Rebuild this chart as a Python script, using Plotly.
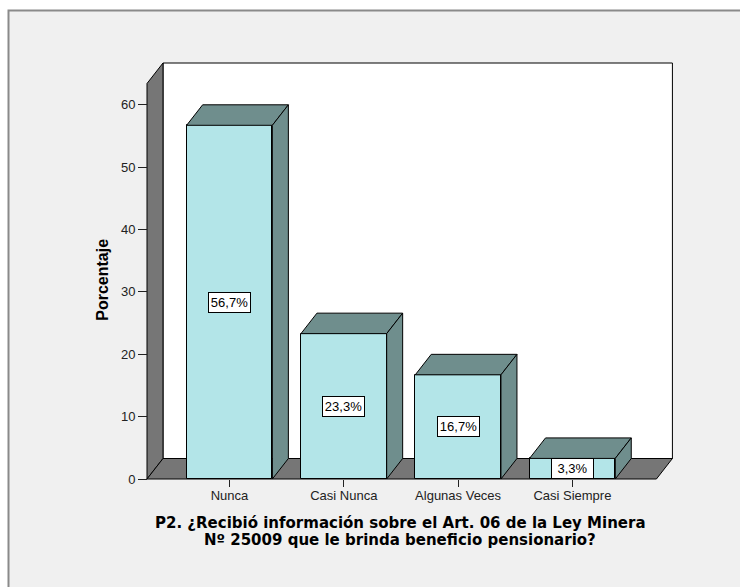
import plotly.graph_objects as go

# ---- data ----
categories = ["Nunca", "Casi Nunca", "Algunas Veces", "Casi Siempre"]
percentages = [56.7, 23.3, 16.7, 3.3]
y_ticks = [0, 10, 20, 30, 40, 50, 60]
x_title_lines = ["P2. ¿Recibió información sobre el Art. 06 de la Ley Minera",
                 "Nº 25009 que le brinda beneficio pensionario?"]
y_title = "Porcentaje"

# ---- styling / geometry ----
W, H = 740, 587
ML, MR, MT, MB = 100, 30, 30, 70
PW, PH = W - ML - MR, H - MT - MB
SX = 114.3          # px per category unit
SY = 6.238          # px per percent
CAT0_PX = 229.5     # pixel of first category
ZERO_PX = 479       # pixel of y=0 (front)
AXIS_PX = 147       # pixel of front-left edge (y axis)

x0 = -(CAT0_PX - ML) / SX
x1 = x0 + PW / SX
y0 = -((H - MB) - ZERO_PX) / SY
y1 = (ZERO_PX - MT) / SY

XL = x0 + (AXIS_PX - ML) / SX     # front-left edge of floor
XR = 3.735                         # front-right edge of floor
DX = 16 / SX                       # depth offset in x units
DY = 20.5 / SY                     # depth offset in y units
YWALL = 63.4                       # front height of left wall
BAR_W = 0.75

FRONT = "#b3e5e8"
SIDE = "#6f8e8d"
WALL = "#767676"
BG = "#f0f0f0"
FONT = "Liberation Sans, Arial, sans-serif"
TFONT = "DejaVu Sans, Verdana, sans-serif"


def px2paper_x(px):
    return (px - ML) / PW


def px2paper_y(py):
    return ((H - MB) - py) / PH


def poly(xs, ys):
    return "M " + " L ".join(f"{a},{b}" for a, b in zip(xs, ys)) + " Z"


fig = go.Figure()

shapes = []
# outer frame
shapes.append(dict(type="rect", xref="paper", yref="paper",
                   x0=px2paper_x(8.5), x1=px2paper_x(780), y0=px2paper_y(640), y1=px2paper_y(10.5),
                   fillcolor=BG, line=dict(color="#8a8a8a", width=2), layer="below"))
# back wall
shapes.append(dict(type="path", xref="x", yref="y", layer="below",
                   path=poly([XL + DX, XR + DX, XR + DX, XL + DX], [DY, DY, YWALL + DY, YWALL + DY]),
                   fillcolor="white", line=dict(color="black", width=1)))
# left wall
shapes.append(dict(type="path", xref="x", yref="y", layer="below",
                   path=poly([XL, XL + DX, XL + DX, XL], [0, DY, YWALL + DY, YWALL]),
                   fillcolor=WALL, line=dict(color="black", width=1)))
# floor
shapes.append(dict(type="path", xref="x", yref="y", layer="below",
                   path=poly([XL, XR, XR + DX, XL + DX], [0, 0, DY, DY]),
                   fillcolor=WALL, line=dict(color="black", width=1)))

xs = list(range(len(categories)))

fig.add_trace(go.Bar(x=xs, y=percentages, width=BAR_W,
                     marker=dict(color=FRONT, line=dict(color="black", width=1)),
                     hoverinfo="skip", showlegend=False))

for i, v in zip(xs, percentages):
    l, r = i - BAR_W / 2, i + BAR_W / 2
    # top face
    fig.add_trace(go.Scatter(x=[l, r, r + DX, l + DX, l], y=[v, v, v + DY, v + DY, v],
                             mode="lines", fill="toself", fillcolor=SIDE,
                             line=dict(color="black", width=1), hoverinfo="skip", showlegend=False))
    # side face
    fig.add_trace(go.Scatter(x=[r, r + DX, r + DX, r, r], y=[0, DY, v + DY, v, 0],
                             mode="lines", fill="toself", fillcolor=SIDE,
                             line=dict(color="black", width=1), hoverinfo="skip", showlegend=False))

annotations = []
for i, v in zip(xs, percentages):
    annotations.append(dict(x=i, y=v / 2, xref="x", yref="y", showarrow=False,
                            text=f"{v:.1f}".replace(".", ",") + "%",
                            font=dict(family=FONT, size=13, color="black"),
                            bgcolor="white", bordercolor="black", borderwidth=1, borderpad=2,
                            width=37, height=15))

for line, yc in zip(x_title_lines, [523, 540]):
    annotations.append(dict(x=px2paper_x(400), y=px2paper_y(yc), xref="paper", yref="paper",
                            showarrow=False, text=f"<b>{line}</b>",
                            font=dict(family=TFONT, size=15, color="black"),
                            xanchor="center", yanchor="middle", align="center"))
annotations.append(dict(x=px2paper_x(101.7), y=px2paper_y(280), xref="paper", yref="paper",
                        showarrow=False, text=f"<b>{y_title}</b>", textangle=-90,
                        font=dict(family=FONT, size=16, color="black"),
                        xanchor="center", yanchor="middle"))

fig.update_layout(
    width=W, height=H,
    margin=dict(l=ML, r=MR, t=MT, b=MB),
    paper_bgcolor="white", plot_bgcolor="rgba(0,0,0,0)",
    shapes=shapes, annotations=annotations,
    xaxis=dict(range=[x0, x1], tickmode="array", tickvals=xs, ticktext=categories,
               ticks="outside", ticklen=7, tickwidth=1, tickcolor="#222",
               showgrid=False, zeroline=False, showline=False,
               anchor="free", position=px2paper_y(479), ticklabelstandoff=-3,
               tickfont=dict(family=FONT, size=13, color="#222")),
    yaxis=dict(range=[y0, y1], tickmode="array", tickvals=y_ticks,
               ticks="outside", ticklen=9, tickwidth=1, tickcolor="#222",
               showgrid=False, zeroline=False, showline=False,
               anchor="free", position=px2paper_x(147),
               tickfont=dict(family=FONT, size=13, color="#222")),
    bargap=0,
)

fig.write_html("out.html",
               config={"displayModeBar": False},
               post_script="document.body.style.margin='0';"
                           "document.documentElement.style.overflow='hidden';")
